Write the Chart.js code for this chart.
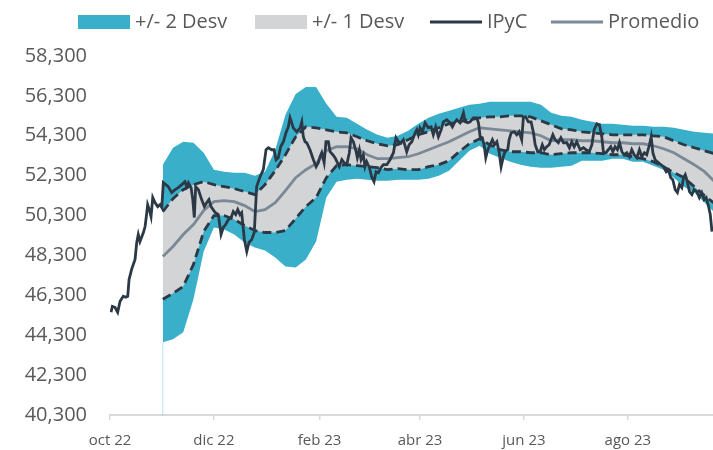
<!DOCTYPE html>
<html lang="es">
<head>
    <meta charset="UTF-8">
    <title>IPyC | Bandas</title>
    <style>
        html, body { margin: 0; padding: 0; background: #fff; }
        #chart-container { width: 713px; height: 450px; position: relative; }
    </style>
</head>
<body>
    <div id="chart-container">
        <canvas id="myChart"></canvas>
    </div>

<script src="https://cdn.jsdelivr.net/npm/chart.js"></script>
<script>
    // eje x en dias contados desde el 1 oct 2022
    const tickDays = [0, 61, 123, 182, 243, 304];
    const tickLabels = ['oct 22', 'dic 22', 'feb 23', 'abr 23', 'jun 23', 'ago 23'];
    const yTicks = [40300, 42300, 44300, 46300, 48300, 50300, 52300, 54300, 56300, 58300];

    // IPyC (cierres)
    const ipycDays = [
        0.6, 1.4, 2.9, 4.5, 5.9, 7.8, 9.2, 10.4, 11.2, 12.7,
        14.7, 15.7, 16.6, 17.6, 19.6, 20.6, 21.6, 22.1, 23.1, 24.1,
        25.1, 26.4, 28.0, 29.4, 30.4, 31.3, 34.2, 36.2, 38.2, 40.1,
        42.1, 44.0, 45.0, 46.0, 47.6, 48.6, 49.5, 50.3, 51.9, 53.8,
        55.4, 56.8, 58.1, 59.3, 61.7, 63.6, 65.2, 66.5, 67.9, 69.5,
        71.1, 72.4, 73.8, 75.0, 76.3, 77.3, 78.9, 80.3, 81.6, 83.2,
        84.7, 86.1, 88.1, 90.0, 91.6, 93.0, 94.9, 96.3, 97.5, 98.8,
        100.2, 101.8, 103.3, 104.7, 105.7, 106.7, 107.6, 109.6, 111.6, 112.6,
        113.5, 114.5, 115.5, 117.4, 119.4, 121.0, 122.3, 123.3, 124.3, 125.7,
        126.8, 128.2, 129.2, 130.8, 132.1, 133.5, 134.6, 136.1, 137.4, 139.0,
        140.5, 141.5, 142.9, 144.5, 145.2, 146.4, 147.4, 148.7, 149.7, 150.7,
        152.3, 153.6, 155.0, 156.2, 157.6, 159.0, 160.5, 162.5, 164.4, 166.4,
        167.9, 169.3, 170.9, 172.2, 174.2, 175.6, 177.2, 179.1, 180.1, 181.0,
        182.0, 183.4, 185.0, 186.9, 188.5, 189.8, 191.2, 192.8, 194.4, 195.7,
        197.7, 199.6, 201.0, 202.2, 203.6, 205.5, 207.5, 208.5, 210.0, 211.4,
        213.3, 215.3, 216.3, 217.3, 218.6, 219.8, 220.6, 221.8, 223.1, 224.5,
        225.7, 227.1, 228.4, 229.6, 230.9, 231.9, 233.5, 234.3, 235.5, 237.4,
        238.8, 240.2, 241.7, 242.7, 244.1, 245.6, 247.2, 248.6, 249.6, 251.1,
        252.5, 253.8, 255.0, 256.4, 257.8, 260.0, 261.3, 263.2, 264.7, 266.2,
        268.2, 269.7, 271.1, 272.5, 274.0, 276.0, 277.9, 279.5, 281.4, 282.9,
        284.2, 285.8, 287.3, 288.7, 289.7, 291.2, 292.6, 294.0, 295.2, 296.5,
        297.9, 299.1, 300.5, 301.8, 303.4, 304.9, 306.3, 307.7, 309.3, 310.8,
        312.2, 313.7, 315.1, 316.7, 317.7, 318.7, 320.0, 321.4, 323.4, 324.9,
        326.5, 327.8, 329.2, 330.4, 331.8, 333.1, 334.3, 335.7, 336.7, 337.7,
        338.6, 340.2, 341.6, 342.9, 344.5, 346.0, 347.4, 348.8, 350.0, 351.4,
        352.4, 353.4
    ];
    const ipycValues = [
        45450, 45750, 45700, 45450, 46000, 46250, 46200, 46250, 47100, 47600,
        48100, 48950, 49350, 49000, 49450, 49750, 50450, 50850, 50600, 50250,
        51200, 50950, 50750, 50850, 50700, 51950, 51750, 51450, 51600, 51700,
        51850, 52000, 51750, 51950, 51700, 51100, 50200, 51750, 51600, 51100,
        50750, 50950, 51100, 50750, 50450, 50350, 49350, 49700, 49850, 50100,
        50200, 50500, 50350, 50600, 50350, 50450, 49100, 48500, 48950, 49100,
        49450, 51750, 52250, 52600, 53600, 53700, 53600, 53600, 53100, 53200,
        53750, 54000, 54450, 54750, 55200, 54950, 54700, 54500, 54700, 55000,
        54250, 54000, 53950, 53600, 53100, 52750, 52950, 53250, 53450, 52950,
        54000, 54000, 53500, 53350, 53200, 52950, 52750, 53100, 52950, 52850,
        53450, 54200, 54000, 53500, 53200, 53600, 53100, 53350, 52750, 53000,
        52700, 52250, 52000, 52500, 52450, 52700, 52850, 52850, 53100, 53450,
        54200, 54000, 53950, 54100, 53500, 53850, 54000, 54450, 54600, 54350,
        54700, 54500, 54950, 54700, 54750, 54350, 54750, 54250, 54600, 55000,
        55100, 54950, 54750, 54950, 55100, 54950, 55450, 55000, 54950, 55000,
        55200, 55200, 54950, 54250, 54200, 53750, 53200, 53600, 53850, 54100,
        53850, 54000, 53500, 52750, 53250, 53500, 53600, 54100, 54450, 54500,
        54350, 54500, 54100, 55250, 55250, 55000, 55000, 54450, 53850, 53500,
        53500, 53850, 53600, 53750, 53850, 54350, 54100, 53950, 54200, 53950,
        53950, 53700, 54000, 53750, 54000, 53600, 53700, 53600, 53500, 53850,
        54600, 54900, 54850, 54250, 53450, 53450, 53600, 53750, 53500, 53750,
        53600, 53950, 53500, 53350, 53450, 53250, 53600, 53350, 53200, 53600,
        53250, 53450, 53350, 53850, 54250, 53450, 53100, 53000, 52850, 52750,
        52500, 52600, 52200, 52100, 51600, 51450, 51850, 51700, 52200, 52350,
        52100, 51500, 51350, 51600, 51500, 51200, 51450, 51100, 51200, 50750,
        50350, 49500
    ];

    // bandas (muestreadas cada 6 dias)
    const bandDays = [
        31, 37, 43, 49, 55, 61, 67, 73, 79, 85,
        91, 97, 103, 109, 115, 121, 127, 133, 139, 145,
        151, 157, 163, 169, 175, 181, 187, 193, 199, 205,
        211, 217, 223, 229, 235, 241, 247, 253, 259, 265,
        271, 277, 283, 289, 295, 301, 307, 313, 319, 325,
        331, 337, 343, 349, 355
    ];
    const sup2 = [
        52850, 53700, 54000, 53950, 53450, 52600, 52500, 52450, 52450, 52300,
        52500, 53600, 55350, 56400, 56750, 56750, 55900, 55250, 55200, 54900,
        54600, 54350, 54200, 54300, 54550, 54900, 55200, 55400, 55550, 55700,
        55850, 55900, 56000, 56000, 56000, 56000, 56000, 55850, 55450, 55300,
        55250, 55100, 55000, 54900, 54900, 54850, 54800, 54800, 54750, 54750,
        54700, 54600, 54500, 54450, 54400
    ];
    const sup1 = [
        50500, 51150, 51600, 51850, 52000, 51850, 51750, 51650, 51500, 51350,
        51850, 52550, 53350, 54250, 54750, 54700, 54600, 54500, 54450, 54250,
        54050, 53900, 53800, 53850, 54100, 54350, 54500, 54700, 54900, 55000,
        55100, 55200, 55250, 55250, 55300, 55300, 55250, 55050, 54850, 54650,
        54600, 54500, 54450, 54400, 54350, 54350, 54350, 54350, 54300, 54250,
        54050, 53850, 53700, 53550, 53400
    ];
    const promedio = [
        48250, 48750, 49350, 49850, 50550, 51000, 51050, 51000, 50800, 50500,
        50600, 50950, 51550, 52200, 52600, 52900, 53550, 53750, 53750, 53650,
        53350, 53150, 53150, 53200, 53250, 53400, 53600, 53800, 54000, 54250,
        54500, 54700, 54650, 54600, 54550, 54500, 54450, 54300, 54050, 54100,
        54100, 54050, 54050, 54000, 53950, 53950, 53900, 53900, 53800, 53650,
        53450, 53150, 52850, 52500, 52000
    ];
    const inf1 = [
        46100, 46400, 46750, 47850, 49500, 50300, 50300, 50100, 49800, 49550,
        49450, 49450, 49550, 50150, 50750, 51200, 52200, 52800, 52850, 52800,
        52750, 52700, 52600, 52650, 52600, 52600, 52750, 52850, 53050, 53500,
        53900, 54150, 53850, 53600, 53500, 53500, 53450, 53450, 53350, 53400,
        53450, 53450, 53450, 53400, 53350, 53350, 53250, 53150, 53000, 52750,
        52450, 52200, 51750, 51300, 50900
    ];
    const inf2 = [
        43950, 44100, 44450, 46100, 48500, 49700, 49600, 49350, 48950, 48700,
        48550, 48200, 47750, 47700, 48100, 49000, 51200, 52000, 52100, 52150,
        52100, 52050, 52050, 52100, 52100, 52100, 52150, 52300, 52550, 53050,
        53550, 53800, 53400, 53200, 53000, 52850, 52750, 52700, 52700, 52750,
        52800, 53050, 53050, 53050, 53150, 53150, 53000, 53000, 52800, 52600,
        52200, 51750, 51450, 50950, 50450
    ];

    const TEAL = '#3AAFC9';
    const GRIS = '#D3D4D6';
    const OSCURO = '#2B3846';
    const PROM = '#7B8997';
    const FUENTE = "'Open Sans', 'Liberation Sans', sans-serif";

    const toXY = (xs, ys) => xs.map((x, i) => ({ x: x, y: ys[i] }));

    // leyenda dibujada a mano para respetar las posiciones del original
    const legendItems = [
        { text: '+/- 2 Desv', kind: 'box', color: TEAL, x: 78 },
        { text: '+/- 1 Desv', kind: 'box', color: GRIS, x: 255 },
        { text: 'IPyC', kind: 'line', color: OSCURO, x: 430 },
        { text: 'Promedio', kind: 'line', color: PROM, x: 551 }
    ];
    const leyenda = {
        id: 'leyenda',
        afterDraw(chart) {
            const c = chart.ctx;
            const yc = 22;
            c.save();
            c.font = '20px ' + FUENTE;
            c.textBaseline = 'middle';
            legendItems.forEach(it => {
                if (it.kind === 'box') {
                    c.fillStyle = it.color;
                    c.fillRect(it.x, yc - 7, 52, 14);
                } else {
                    c.strokeStyle = it.color;
                    c.lineWidth = 3;
                    c.beginPath();
                    c.moveTo(it.x, yc);
                    c.lineTo(it.x + 52, yc);
                    c.stroke();
                }
                c.fillStyle = '#595959';
                c.fillText(it.text, it.x + 57, yc);
            });
            c.restore();
        }
    };

    const dashed = { borderColor: OSCURO, borderWidth: 2.8, borderDash: [9, 5], pointRadius: 0, tension: 0 };

    const ctx = document.getElementById('myChart').getContext('2d');
    const chart = new Chart(ctx, {
        type: 'line',
        data: {
            datasets: [
                { label: 'IPyC', data: toXY(ipycDays, ipycValues), borderColor: OSCURO, borderWidth: 2.8, pointRadius: 0, fill: false },
                { label: 'Promedio', data: toXY(bandDays, promedio), borderColor: PROM, borderWidth: 2.8, pointRadius: 0, fill: false },
                Object.assign({ label: '+1 Desv', data: toXY(bandDays, sup1), fill: '+1', backgroundColor: GRIS }, dashed),
                Object.assign({ label: '-1 Desv', data: toXY(bandDays, inf1), fill: false }, dashed),
                { label: '+2 Desv', data: toXY(bandDays, sup2), borderColor: 'rgba(0,0,0,0)', borderWidth: 1, pointRadius: 0, fill: '+1', backgroundColor: TEAL },
                { label: '-2 Desv', data: toXY(bandDays, inf2), borderColor: 'rgba(0,0,0,0)', borderWidth: 1, pointRadius: 0, fill: false },
                // la linea fina que deja el area apilada de excel
                { label: 'base', data: [{ x: bandDays[0], y: yTicks[0] }, { x: bandDays[0], y: inf2[0] }], borderColor: 'rgba(58,175,201,0.35)', borderWidth: 1, pointRadius: 0, fill: false }
            ]
        },
        options: {
            responsive: true,
            maintainAspectRatio: false,
            animation: false,
            layout: { padding: { top: 56, right: 0, bottom: 0, left: 0 } },
            plugins: {
                legend: { display: false },
                tooltip: { enabled: false },
                filler: { drawTime: 'beforeDatasetsDraw' }
            },
            scales: {
                x: {
                    type: 'linear',
                    min: 0,
                    max: 354,
                    afterBuildTicks: s => { s.ticks = tickDays.map(v => ({ value: v })); },
                    afterFit: s => { s.height = 34; },
                    grid: { display: true, drawOnChartArea: false, drawTicks: true, tickLength: 5, color: '#D9D9D9', lineWidth: 1.5 },
                    border: { display: true, color: '#D9D9D9', width: 2 },
                    ticks: {
                        autoSkip: false,
                        maxRotation: 0,
                        padding: 12,
                        color: '#595959',
                        font: { family: FUENTE, size: 15 },
                        callback: v => tickLabels[tickDays.indexOf(v)] ?? ''
                    }
                },
                y: {
                    min: yTicks[0],
                    max: yTicks[yTicks.length - 1],
                    afterBuildTicks: s => { s.ticks = yTicks.map(v => ({ value: v })); },
                    afterFit: s => { s.width = 110; },
                    grid: { display: false, drawTicks: false },
                    border: { display: false },
                    ticks: {
                        padding: 23,
                        color: '#595959',
                        font: { family: FUENTE, size: 20 },
                        callback: v => v.toLocaleString('en-US')
                    }
                }
            }
        },
        plugins: [leyenda]
    });
</script>
</body>
</html>
